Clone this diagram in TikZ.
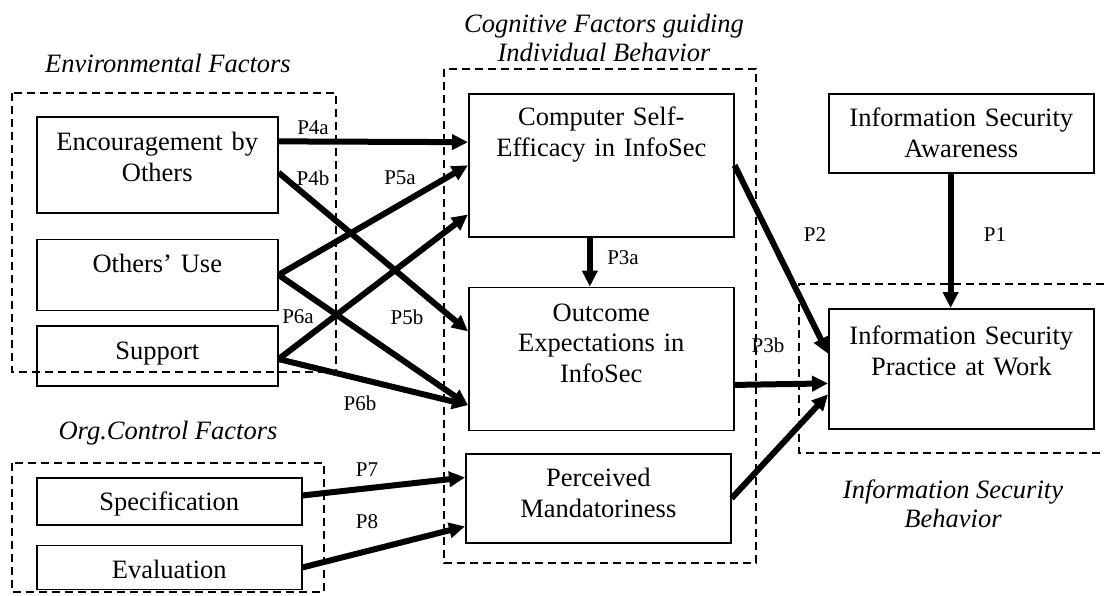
\documentclass[tikz,border=0pt]{standalone}
\usepackage{fontspec}
\setmainfont{Liberation Serif}
\usetikzlibrary{positioning}
\usetikzlibrary{arrows.meta}
\usetikzlibrary{calc}

\begin{document}
\begin{tikzpicture}[x=0.5pt,y=-0.5pt]
  \tikzset{Box/.style={rectangle, draw, line width=0.8pt, inner sep=0pt, text centered, font=\fontsize{13.25}{15.25}\selectfont}};
  \tikzset{Factor/.style={Box, text width=120.5pt}};
  \tikzset{Construct/.style={Box, text width=132.5pt}};
  \tikzset{Group/.style={draw, line width=1pt, dash pattern=on 4pt off 2.5pt}};
  \tikzset{Title/.style={align=center, inner sep=0pt, font=\fontsize{13.25}{14.5}\selectfont\itshape}};
  \tikzset{Plabel/.style={inner sep=0pt, font=\fontsize{10.5}{12}\selectfont}};
  \tikzset{Link/.style={-{Triangle[length=8pt,width=7.5pt]}, line width=3pt}};
  \useasboundingbox (0,0) rectangle (1104,595);
  % dashed groups
  \draw[Group] (12,93) rectangle (336,372);
  \draw[Group] (12,463) rectangle (324,592);
  \draw[Group] (444,69) rectangle (756,563);
  \draw[Group] (1104,284) -- (799,284) -- (799,453) -- (1104,453);
  \node[Title] (envtitle) at (168,63) {Environmental Factors};
  \node[Title] (orgtitle) at (168,433) {Org.Control Factors};
  \node[Title] (cogtitle) at (604,38) {Cognitive Factors guiding\\Individual Behavior};
  \node[Title] (isbtitle) at (953,504) {Information Security\\Behavior};
  % boxes
  \node[Factor, text height=17pt, text depth=31pt, anchor=north west] (enc) at (36,116) {Encouragement by\\Others};
  \node[Factor, text height=16.5pt, text depth=19pt][below=12.5pt of enc] (ou) {Others’ Use};
  \node[Factor, text height=16.5pt, text depth=13.5pt][below=7pt of ou] (sup) {Support};
  \node[Construct, text height=16.5pt, text depth=7pt, anchor=north west] (spec) at (36,477) {Specification};
  \node[Construct, text height=16.5pt, text depth=5.5pt][below=9.5pt of spec] (eval) {Evaluation};
  \node[Construct, text height=16pt, text depth=55.5pt, anchor=north west] (cse) at (468,93) {Computer Self-\\Efficacy in InfoSec};
  \node[Construct, text height=17pt, text depth=54.5pt][below=24.5pt of cse] (oei) {Outcome\\Expectations in\\InfoSec};
  \node[Construct, text height=16.5pt, text depth=28pt, anchor=north west] (pm) at (465,453) {Perceived\\Mandatoriness};
  \node[Construct, text height=16.5pt, text depth=23pt, anchor=north west] (isa) at (828,93) {Information Security\\Awareness};
  \node[Construct, text height=18pt, text depth=42pt, anchor=north west] (isp) at (828,308) {Information Security\\Practice at Work};
  % links
  \draw[Link] ($(enc.north east)!.26!(enc.south east)$) -- ($(cse.north west)!.34!(cse.south west)$);
  \draw[Link] ($(enc.north east)!.58!(enc.south east)$) -- ($(oei.north west)!.31!(oei.south west)$);
  \draw[Link] (ou.east) -- (cse.west);
  \draw[Link] (ou.east) -- ($(oei.north west)!.82!(oei.south west)$);
  \draw[Link] ($(sup.north east)!.55!(sup.south east)$) -- ($(cse.north west)!.84!(cse.south west)$);
  \draw[Link] ($(sup.north east)!.55!(sup.south east)$) -- ($(oei.north west)!.82!(oei.south west)$);
  \draw[Link] ($(spec.north east)!.38!(spec.south east)$) -- ($(pm.north west)!.27!(pm.south west)$);
  \draw[Link] (eval.east) -- ($(pm.north west)!.81!(pm.south west)$);
  \draw[Link] ($(cse.south west)!.457!(cse.south east)$) -- ($(oei.north west)!.457!(oei.north east)$);
  \draw[Link] (cse.east) -- ($(isp.north west)!.375!(isp.south west)$);
  \draw[Link] ($(oei.north east)!.68!(oei.south east)$) -- ($(isp.north west)!.62!(isp.south west)$);
  \draw[Link] (pm.east) -- ($(isp.north west)!.71!(isp.south west)$);
  \draw[Link] ($(isa.south west)!.46!(isa.south east)$) -- ($(isp.north west)!.46!(isp.north east)$);
  % labels
  \node[Plabel] (p1) at (995,235) {P1};
  \node[Plabel] (p2) at (815,235) {P2};
  \node[Plabel] (p3a) at (623,258) {P3a};
  \node[Plabel] (p3b) at (768,345) {P3b};
  \node[Plabel] (p4a) at (313,128) {P4a};
  \node[Plabel] (p4b) at (313,178) {P4b};
  \node[Plabel] (p5a) at (400,178) {P5a};
  \node[Plabel] (p5b) at (407,317) {P5b};
  \node[Plabel] (p6a) at (298,317) {P6a};
  \node[Plabel] (p6b) at (360,403) {P6b};
  \node[Plabel] (p7) at (367,470) {P7};
  \node[Plabel] (p8) at (367,522) {P8};
\end{tikzpicture}
\end{document}
